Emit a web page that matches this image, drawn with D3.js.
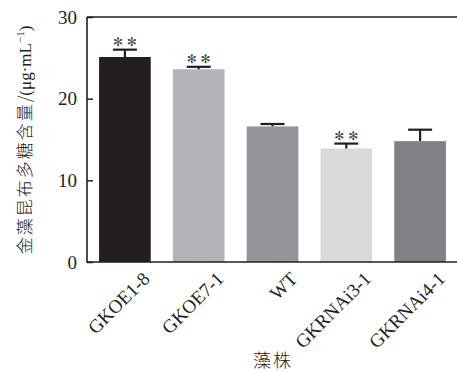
<!DOCTYPE html>
<html>
<head>
<meta charset="utf-8">
<script src="https://cdn.jsdelivr.net/npm/d3@7"></script>
<style>
  html, body { margin: 0; padding: 0; background: #fff; }
  svg { display: block; }
</style>
</head>
<body>
<svg id="chart" width="457" height="372"></svg>
<script>
// Polysaccharide content per strain (μg·mL⁻¹), mean and upper error
const strains = ["GKOE1-8", "GKOE7-1", "WT", "GKRNAi3-1", "GKRNAi4-1"];
const means = [25.1, 23.6, 16.6, 13.9, 14.8];
const errors = [0.9, 0.3, 0.3, 0.6, 1.4];
const marks = ["**", "**", "", "**", ""];
const fills = ["#231f20", "#b3b4b8", "#939598", "#d9dadc", "#808285"];
const yTicks = [0, 10, 20, 30];

const svg = d3.select("#chart");
const mLeft = 87, mTop = 17, mBottom = 262;

const x = d3.scaleBand().domain(strains).range([88, 457]).paddingInner(0.3).paddingOuter(0.15);
const y = d3.scaleLinear().domain([0, 30]).range([mBottom, mTop]);

const serif = "'Liberation Serif', 'Times New Roman', serif";
const cjk = "'Noto Sans CJK SC', sans-serif";

// bars
svg.append("g").selectAll("rect").data(strains).join("rect")
  .attr("x", d => x(d))
  .attr("y", (d, i) => y(means[i]))
  .attr("width", x.bandwidth())
  .attr("height", (d, i) => y(0) - y(means[i]))
  .attr("fill", (d, i) => fills[i]);

// one-sided error bars
const eb = svg.append("g").attr("stroke", "#231f20").attr("stroke-width", 2.2);
strains.forEach((s, i) => {
  const cx = x(s) + x.bandwidth() / 2;
  eb.append("line").attr("x1", cx).attr("x2", cx)
    .attr("y1", y(means[i])).attr("y2", y(means[i] + errors[i]));
  eb.append("line").attr("x1", cx - 12).attr("x2", cx + 12)
    .attr("y1", y(means[i] + errors[i])).attr("y2", y(means[i] + errors[i]));
});

// significance marks
svg.append("g").selectAll("text").data(strains).join("text")
  .attr("x", d => x(d) + x.bandwidth() / 2)
  .attr("y", (d, i) => y(means[i] + errors[i]) - 4)
  .attr("text-anchor", "middle")
  .attr("font-family", "'DejaVu Sans', sans-serif")
  .attr("font-size", 12)
  .attr("fill", "#444")
  .text((d, i) => marks[i].replace(/\*/g, "✻").split("").join(" "));

// y axis with inward ticks
const yAxis = svg.append("g").attr("transform", `translate(${mLeft},0)`)
  .call(d3.axisRight(y).tickValues(yTicks).tickSize(6).tickFormat(""));
yAxis.select(".domain").remove();
yAxis.selectAll("line").attr("stroke", "#231f20").attr("stroke-width", 1.5);
svg.append("g").selectAll("text").data(yTicks).join("text")
  .attr("x", mLeft - 10)
  .attr("y", d => y(d))
  .attr("dy", "0.35em")
  .attr("text-anchor", "end")
  .attr("font-family", serif)
  .attr("font-size", 19)
  .attr("fill", "#231f20")
  .text(d => d);

// frame: left, bottom, top
const frame = svg.append("g").attr("stroke", "#231f20").attr("stroke-width", 1.6).attr("fill", "none");
frame.append("path").attr("d", `M${mLeft},${mTop}V${mBottom}H457M${mLeft},${mTop}H457`);

// x labels
svg.append("g").selectAll("text").data(strains).join("text")
  .attr("transform", d => `translate(${x(d) + x.bandwidth() / 2 + 26},${mBottom + 18}) rotate(-45)`)
  .attr("text-anchor", "end")
  .attr("font-family", serif)
  .attr("font-size", 19)
  .attr("fill", "#231f20")
  .text(d => d);

// axis titles
svg.append("text")
  .attr("x", 273).attr("y", 367)
  .attr("text-anchor", "middle")
  .attr("font-family", cjk)
  .attr("font-weight", 300)
  .attr("font-size", 18)
  .attr("letter-spacing", 2)
  .attr("fill", "#231f20")
  .text("藻株");

const yt = svg.append("text")
  .attr("transform", `translate(31,${(22 + 258) / 2}) rotate(-90)`)
  .attr("text-anchor", "middle")
  .attr("font-size", 17)
  .attr("fill", "#231f20");
yt.append("tspan").attr("font-family", cjk).attr("font-weight", 300).attr("letter-spacing", 2).text("金藻昆布多糖含量");
yt.append("tspan").attr("font-family", cjk).attr("font-weight", 300).text("/");
yt.append("tspan").attr("font-family", serif).text("(μg·mL");
yt.append("tspan").attr("font-family", serif).attr("font-size", 11).attr("dy", -7).text("−1");
yt.append("tspan").attr("font-family", serif).attr("dy", 7).text(")");
</script>
</body>
</html>
